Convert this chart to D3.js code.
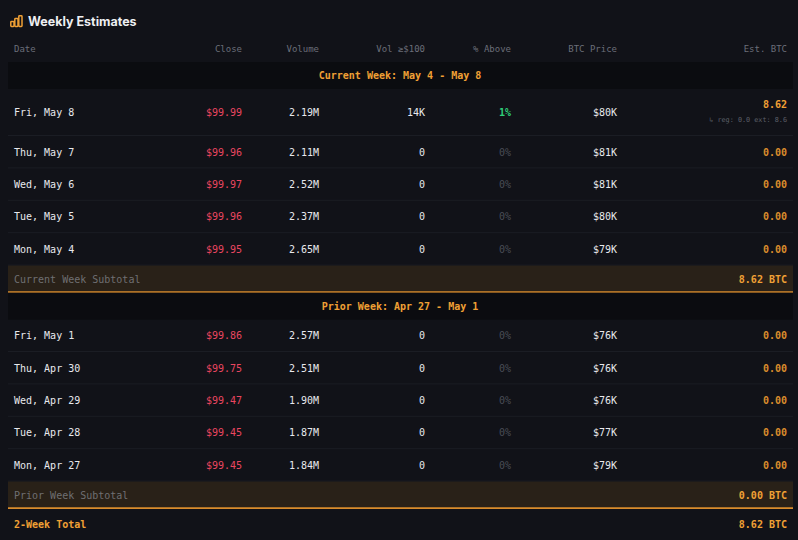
<!DOCTYPE html>
<html>
<head>
<meta charset="utf-8">
<script src="https://cdn.jsdelivr.net/npm/d3@7"></script>
<style>
  html, body { margin: 0; padding: 0; background: #111218; }
  svg { display: block; }
</style>
</head>
<body>
<svg id="chart" width="798" height="540"></svg>
<script>
// ---- data ----
var columns = ["Date", "Close", "Volume", "Vol \u2265$100", "% Above", "BTC Price", "Est. BTC"];

var currentLabel = "Current Week: May 4 - May 8";
var currentDates = ["Fri, May 8", "Thu, May 7", "Wed, May 6", "Tue, May 5", "Mon, May 4"];
var currentClose = [99.99, 99.96, 99.97, 99.96, 99.95];
var currentVolume = [2.19, 2.11, 2.52, 2.37, 2.65];       // millions
var currentVolAbove = [14000, 0, 0, 0, 0];
var currentPctAbove = [1, 0, 0, 0, 0];
var currentBtcPrice = [80, 81, 81, 80, 79];               // thousands
var currentEst = [8.62, 0, 0, 0, 0];
var currentNote = ["\u21b3 reg: 0.0 ext: 8.6", null, null, null, null];

var priorLabel = "Prior Week: Apr 27 - May 1";
var priorDates = ["Fri, May 1", "Thu, Apr 30", "Wed, Apr 29", "Tue, Apr 28", "Mon, Apr 27"];
var priorClose = [99.86, 99.75, 99.47, 99.45, 99.45];
var priorVolume = [2.57, 2.51, 1.90, 1.87, 1.84];
var priorVolAbove = [0, 0, 0, 0, 0];
var priorPctAbove = [0, 0, 0, 0, 0];
var priorBtcPrice = [76, 76, 76, 77, 79];
var priorEst = [0, 0, 0, 0, 0];
var priorNote = [null, null, null, null, null];

// ---- styles ----
var mono = "'DejaVu Sans Mono', 'Liberation Mono', monospace";
var orange = "#f0a035";
var red = "#ea4660";
var green = "#2fcf7a";
var textCol = "#e8e9ed";
var dim = "#4a4d56";
var headCol = "#6b6e78";

var svg = d3.select("#chart");

// column anchors (right aligned except Date)
var colX = d3.scaleOrdinal()
    .domain(columns)
    .range([14, 242, 319, 425, 511, 617, 787]);

var fmtK = d3.format(".2~s");

function buildWeek(label, dates, close, vol, volAbove, pct, btc, est, note, subLabel) {
    var rows = [{ type: "section", label: label }];
    dates.forEach(function (d, i) {
        rows.push({
            type: "day", tall: !!note[i],
            cells: [d, "$" + close[i].toFixed(2), vol[i].toFixed(2) + "M",
                volAbove[i] ? fmtK(volAbove[i]).replace("k", "K") : "0",
                pct[i] + "%", "$" + btc[i] + "K", est[i].toFixed(2)],
            pct: pct[i], note: note[i]
        });
    });
    rows.push({ type: "subtotal", label: subLabel, value: d3.sum(est) });
    return rows;
}

var rows = []
    .concat(buildWeek(currentLabel, currentDates, currentClose, currentVolume, currentVolAbove,
        currentPctAbove, currentBtcPrice, currentEst, currentNote, "Current Week Subtotal"))
    .concat(buildWeek(priorLabel, priorDates, priorClose, priorVolume, priorVolAbove,
        priorPctAbove, priorBtcPrice, priorEst, priorNote, "Prior Week Subtotal"));
rows.push({ type: "total", label: "2-Week Total", value: d3.sum(currentEst) + d3.sum(priorEst) });

// vertical layout
var heights = { section: 27, day: 32.4, tall: 47, subtotal: 27, total: 32 };
var y = 62;
rows.forEach(function (r) {
    r.h = r.type === "day" && r.tall ? heights.tall : heights[r.type];
    r.y = y;
    y += r.h;
});

// ---- title ----
var icon = svg.append("g").attr("transform", "translate(10,15)")
    .attr("fill", "none").attr("stroke", orange).attr("stroke-width", 1.5)
    .attr("stroke-linejoin", "round");
icon.append("rect").attr("x", 0.8).attr("y", 6.5).attr("width", 3.2).attr("height", 5).attr("rx", 0.7);
icon.append("rect").attr("x", 4.8).attr("y", 3.5).attr("width", 3.2).attr("height", 8).attr("rx", 0.7);
icon.append("rect").attr("x", 8.8).attr("y", 0.8).attr("width", 3.2).attr("height", 10.7).attr("rx", 0.7);

svg.append("text")
    .attr("x", 28).attr("y", 21)
    .attr("dominant-baseline", "central")
    .style("font", "bold 12.5px Inter, 'Noto Sans', sans-serif")
    .style("fill", "#eeeff2")
    .text("Weekly Estimates");

// ---- header ----
svg.append("g").selectAll("text")
    .data(columns)
    .join("text")
    .attr("x", function (d) { return colX(d); })
    .attr("y", 49)
    .attr("dominant-baseline", "central")
    .attr("text-anchor", function (d, i) { return i === 0 ? "start" : "end"; })
    .style("font", "9px " + mono)
    .style("fill", headCol)
    .text(function (d) { return d; });

// ---- rows ----
var g = svg.append("g").selectAll("g.row")
    .data(rows)
    .join("g")
    .attr("class", "row")
    .attr("transform", function (d) { return "translate(0," + d.y + ")"; });

g.each(function (r) {
    var row = d3.select(this);
    var mid = r.h / 2;

    if (r.type === "section") {
        row.append("rect").attr("x", 8).attr("width", 785).attr("height", r.h).attr("fill", "#0b0c10");
        row.append("text")
            .attr("x", 400).attr("y", mid)
            .attr("text-anchor", "middle").attr("dominant-baseline", "central")
            .style("font", "bold 10px " + mono).style("fill", orange)
            .text(r.label);
        return;
    }

    if (r.type === "subtotal") {
        row.append("rect").attr("x", 8).attr("width", 785).attr("height", r.h).attr("fill", "#292118");
        row.append("line").attr("x1", 8).attr("x2", 793).attr("y1", r.h - 0.5).attr("y2", r.h - 0.5)
            .attr("stroke", "#d98c2c").attr("stroke-width", 1.6);
        row.append("text")
            .attr("x", 14).attr("y", mid).attr("dominant-baseline", "central")
            .style("font", "10px " + mono).style("fill", "#6f6f72")
            .text(r.label);
        row.append("text")
            .attr("x", 787).attr("y", mid).attr("text-anchor", "end").attr("dominant-baseline", "central")
            .style("font", "bold 10px " + mono).style("fill", orange)
            .text(r.value.toFixed(2) + " BTC");
        return;
    }

    if (r.type === "total") {
        row.append("text")
            .attr("x", 14).attr("y", mid).attr("dominant-baseline", "central")
            .style("font", "bold 10px " + mono).style("fill", orange)
            .text(r.label);
        row.append("text")
            .attr("x", 787).attr("y", mid).attr("text-anchor", "end").attr("dominant-baseline", "central")
            .style("font", "bold 10px " + mono).style("fill", orange)
            .text(r.value.toFixed(2) + " BTC");
        return;
    }

    // day row
    row.append("line").attr("x1", 8).attr("x2", 793).attr("y1", r.h - 0.5).attr("y2", r.h - 0.5)
        .attr("stroke", "#1b1d24").attr("stroke-width", 1);

    row.selectAll("text.cell")
        .data(r.cells)
        .join("text")
        .attr("class", "cell")
        .attr("x", function (d, i) { return colX(columns[i]); })
        .attr("y", function (d, i) { return i === 6 && r.note ? mid - 8 : mid; })
        .attr("dominant-baseline", "central")
        .attr("text-anchor", function (d, i) { return i === 0 ? "start" : "end"; })
        .style("font", function (d, i) {
            return (i === 6 || (i === 4 && r.pct > 0) ? "bold " : "") + "10px " + mono;
        })
        .style("fill", function (d, i) {
            if (i === 1) return red;
            if (i === 4) return r.pct > 0 ? green : dim;
            if (i === 6) return r.note ? orange : "#d98c2c";
            return textCol;
        })
        .text(function (d) { return d; });

    if (r.note) {
        row.append("text")
            .attr("x", 787).attr("y", mid + 7)
            .attr("text-anchor", "end").attr("dominant-baseline", "central")
            .style("font", "6.8px " + mono).style("fill", "#5d6069")
            .text(r.note);
    }
});
</script>
</body>
</html>
